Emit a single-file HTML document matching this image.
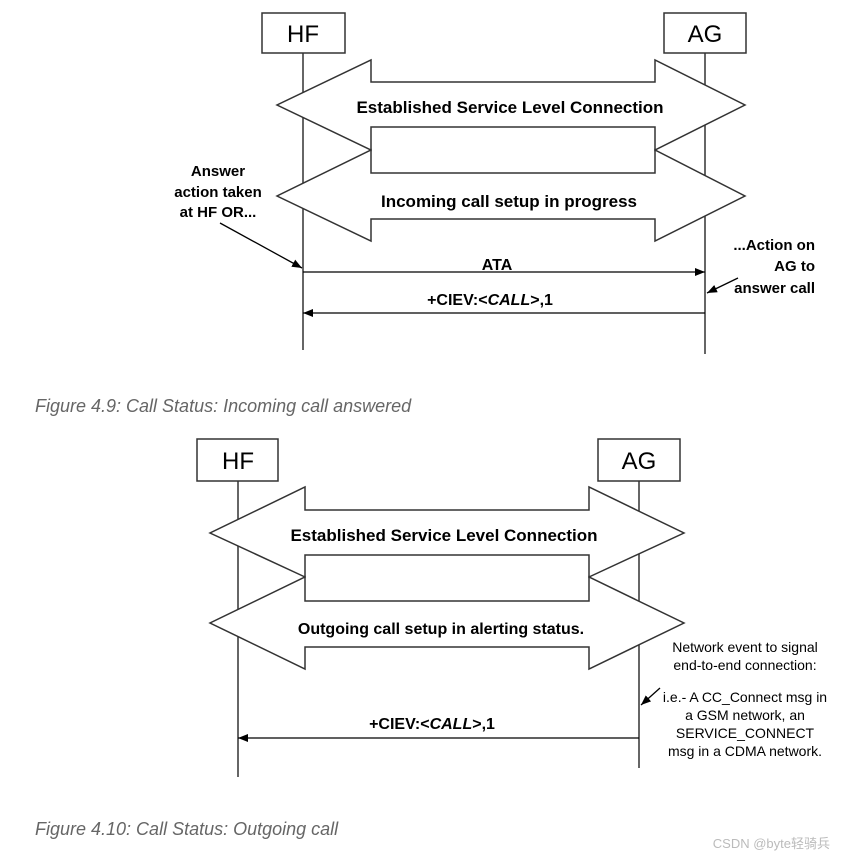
<!DOCTYPE html>
<html><head><meta charset="utf-8"><style>
html,body{margin:0;padding:0;background:#fff;}
svg{display:block;font-family:"Liberation Sans",Arial,sans-serif;}
</style></head><body>
<svg width="843" height="857" viewBox="0 0 843 857" xmlns="http://www.w3.org/2000/svg">
<defs>
<marker id="ah" markerWidth="10" markerHeight="8" refX="10" refY="4" orient="auto" markerUnits="userSpaceOnUse"><path d="M0,0 L10,4 L0,8 Z" fill="#000"/></marker>
</defs>
<g stroke="#333" stroke-width="1.5" fill="#fff">
<line x1="303" y1="53" x2="303" y2="350"/>
<line x1="705" y1="53" x2="705" y2="354"/>
<rect x="262" y="13" width="83" height="40"/>
<rect x="664" y="13" width="82" height="40"/>
<path d="M371,60 L371,82 L655,82 L655,60 L745,105 L655,150 L655,127 L371,127 L371,150 L277,105 Z"/>
<path d="M371,150 L371,173 L655,173 L655,150 L745,196 L655,241 L655,219 L371,219 L371,241 L277,196 Z"/>
<line x1="238" y1="481" x2="238" y2="777"/>
<line x1="639" y1="481" x2="639" y2="768"/>
<rect x="197" y="439" width="81" height="42"/>
<rect x="598" y="439" width="82" height="42"/>
<path d="M305,487 L305,510 L589,510 L589,487 L684,533 L589,577 L589,555 L305,555 L305,577 L210,533 Z"/>
<path d="M305,577 L305,601 L589,601 L589,577 L684,623 L589,669 L589,647 L305,647 L305,669 L210,623 Z"/>
</g>
<g stroke="#000" stroke-width="1.3" fill="none">
<line x1="303" y1="272" x2="705" y2="272" marker-end="url(#ah)"/>
<line x1="705" y1="313" x2="303" y2="313" marker-end="url(#ah)"/>
<line x1="220" y1="223" x2="302" y2="268" marker-end="url(#ah)"/>
<line x1="738" y1="278" x2="707" y2="293" marker-end="url(#ah)"/>
<line x1="639" y1="738" x2="238" y2="738" marker-end="url(#ah)"/>
<line x1="660" y1="688" x2="641" y2="705" marker-end="url(#ah)"/>
</g>
<g fill="#000" text-anchor="middle">
<text x="303" y="42" font-size="24">HF</text>
<text x="705" y="42" font-size="24">AG</text>
<text x="238" y="469" font-size="24">HF</text>
<text x="639" y="469" font-size="24">AG</text>
<g font-weight="bold" font-size="17">
<text x="510" y="113">Established Service Level Connection</text>
<text x="509" y="207">Incoming call setup in progress</text>
<text x="444" y="541">Established Service Level Connection</text>
</g>
<g font-weight="bold" font-size="16">
<text x="497" y="270">ATA</text>
<text x="490" y="305">+CIEV:&lt;<tspan font-style="italic">CALL</tspan>&gt;,1</text>
<text x="441" y="634">Outgoing call setup in alerting status.</text>
<text x="432" y="729">+CIEV:&lt;<tspan font-style="italic">CALL</tspan>&gt;,1</text>
</g>
<g font-weight="bold" font-size="15">
<text x="218" y="176">Answer</text>
<text x="218" y="197">action taken</text>
<text x="218" y="217">at HF OR...</text>
</g>
<g font-weight="bold" font-size="15" text-anchor="end">
<text x="815" y="250">...Action on</text>
<text x="815" y="271">AG to</text>
<text x="815" y="293">answer call</text>
</g>
<g font-size="14">
<text x="745" y="652">Network event to signal</text>
<text x="745" y="670">end-to-end connection:</text>
<text x="745" y="702">i.e.- A CC_Connect msg in</text>
<text x="745" y="720">a GSM network, an</text>
<text x="745" y="738">SERVICE_CONNECT</text>
<text x="745" y="756">msg in a CDMA network.</text>
</g>
</g>
<g fill="#666" font-style="italic" font-size="18">
<text x="35" y="412">Figure 4.9: Call Status: Incoming call answered</text>
<text x="35" y="835">Figure 4.10: Call Status: Outgoing call</text>
</g>
<text x="830" y="848" text-anchor="end" font-size="13" fill="#bbb" font-family="'Liberation Sans','Noto Sans CJK SC',sans-serif">CSDN @byte轻骑兵</text>
</svg>
</body></html>
